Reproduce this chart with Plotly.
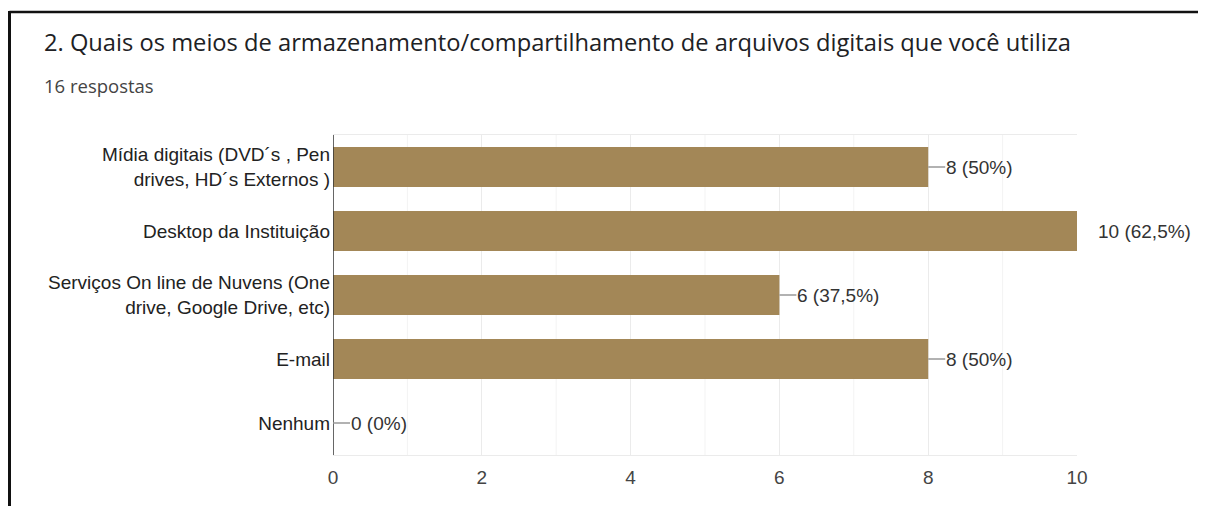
import plotly.graph_objects as go

categories = [
    "Mídia digitais (DVD´s , Pen<br>drives, HD´s Externos )",
    "Desktop da Instituição",
    "Serviços On line de Nuvens (One<br>drive, Google Drive, etc)",
    "E-mail",
    "Nenhum",
]
counts = [8, 10, 6, 8, 0]
percents = ["50%", "62,5%", "37,5%", "50%", "0%"]
x_ticks = [0, 2, 4, 6, 8, 10]
title_text = "2. Quais os meios de armazenamento/compartilhamento de arquivos digitais que você utiliza"
subtitle_text = "16 respostas"

BAR = "#a38757"
OFF = 8  # page body margin
W, H = 1206 - OFF, 506 - OFF
ML, MR, MT, MB = 333 - OFF, 1206 - 1077, 135 - OFF, 506 - 455
PW, PH = W - ML - MR, H - MT - MB
LABEL_FONT = dict(family="Liberation Sans, Arial", size=19, color="#333")

def px_x(p):
    return (p - OFF - ML) / PW

def px_y(p):
    return (H - MB - (p - OFF)) / PH

fig = go.Figure()
fig.add_trace(go.Bar(
    x=counts, y=categories, orientation="h",
    marker=dict(color=BAR, line=dict(width=0)),
    hoverinfo="skip",
))

for c, v, p in zip(categories, counts, percents):
    label = f"{v} ({p})"
    if v == max(counts):
        fig.add_annotation(x=v, y=c, text=label, showarrow=False,
                           xanchor="left", xshift=19, font=LABEL_FONT)
    else:
        fig.add_annotation(x=v, y=c, text=label, showarrow=True,
                           arrowhead=0, arrowwidth=1.3, arrowcolor="#999",
                           ax=17, ay=0, xanchor="left", standoff=0, startstandoff=0,
                           borderpad=0, font=LABEL_FONT)

# minor gridlines at odd values
for xv in range(1, 10, 2):
    fig.add_shape(type="line", xref="x", yref="paper", x0=xv, x1=xv, y0=0, y1=1,
                  line=dict(color="#f3f3f3", width=1), layer="below")

fig.update_xaxes(range=[0, 10], tickvals=x_ticks, ticktext=[str(t) for t in x_ticks],
                 showgrid=True, gridcolor="#ebebeb", gridwidth=1,
                 zeroline=False, showline=True, linecolor="#ebebeb", mirror=True,
                 ticks="", ticklabelstandoff=5,
                 tickfont=dict(family="Liberation Sans, Arial", size=19, color="#444"),
                 fixedrange=True)
fig.update_yaxes(autorange="reversed", showgrid=False, zeroline=False,
                 showline=False, ticks="", ticklabelstandoff=2,
                 tickfont=dict(family="Liberation Sans, Arial", size=19, color="#222"),
                 fixedrange=True)

# y axis line at zero
fig.add_shape(type="line", xref="x", yref="paper", x0=0, x1=0, y0=0, y1=1,
              line=dict(color="#333", width=1.5))

# frame (left edge drawn at the very left of the figure)
left_edge = (1.5 - ML) / PW
fig.add_shape(type="line", xref="paper", yref="paper",
              x0=left_edge, x1=px_x(1210), y0=px_y(12), y1=px_y(12),
              line=dict(color="#111", width=2.5))
fig.add_shape(type="line", xref="paper", yref="paper",
              x0=left_edge, x1=left_edge, y0=px_y(11), y1=px_y(512),
              line=dict(color="#111", width=3))

fig.add_annotation(xref="paper", yref="paper", x=px_x(42), y=px_y(42),
                   text=title_text, showarrow=False, xanchor="left", yanchor="middle",
                   font=dict(family="Open Sans", size=23.7, color="#202124"))
fig.add_annotation(xref="paper", yref="paper", x=px_x(42), y=px_y(85),
                   text=subtitle_text, showarrow=False, xanchor="left", yanchor="middle",
                   font=dict(family="Open Sans", size=18.5, color="#444"))

fig.update_layout(
    width=W, height=H,
    margin=dict(l=ML, r=MR, t=MT, b=MB, autoexpand=False),
    paper_bgcolor="white", plot_bgcolor="white",
    bargap=0.375, showlegend=False,
)

fig.write_html("out.html")
